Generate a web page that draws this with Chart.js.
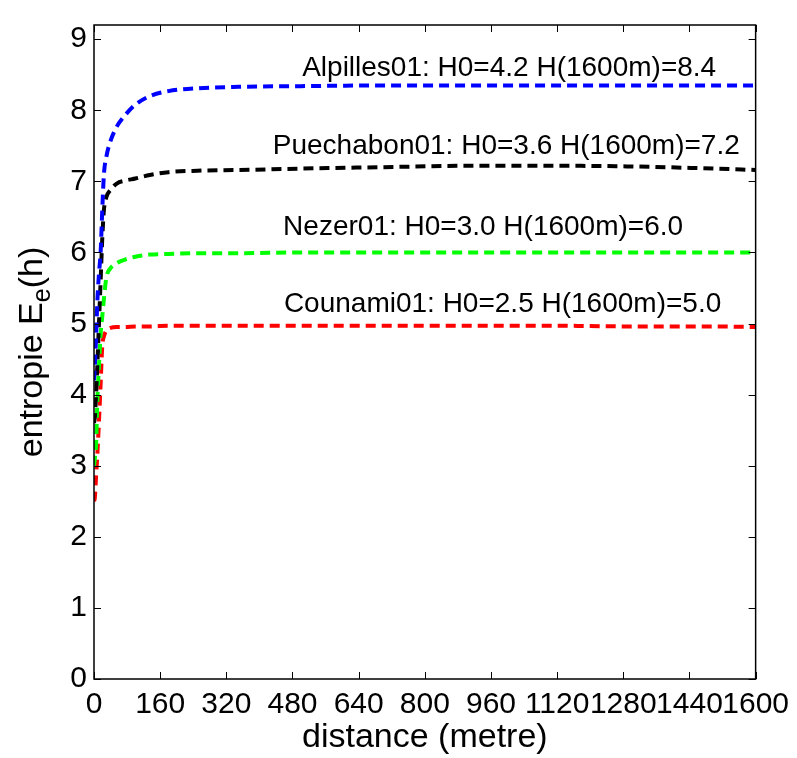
<!DOCTYPE html>
<html>
<head>
<meta charset="utf-8">
<script src="https://cdn.jsdelivr.net/npm/chart.js@4/dist/chart.umd.min.js"></script>
<style>
html, body { margin: 0; padding: 0; background: #fff; }
</style>
</head>
<body>
<canvas id="myChart" width="797" height="758"></canvas>
<script>
//Data
var distance = [0, 2, 5, 8, 12, 16, 20, 24, 30, 40, 55, 75, 100, 135, 180, 250, 350, 500, 700, 900, 1100, 1300, 1500, 1600];
var alpilles = [4.2, 4.4, 4.8, 5.3, 5.7, 6.0, 6.6, 7.1, 7.35, 7.57, 7.77, 7.93, 8.08, 8.2, 8.27, 8.31, 8.33, 8.34, 8.35, 8.35, 8.35, 8.35, 8.35, 8.35];
var puechabon = [3.6, 3.68, 4.0, 4.4, 5.0, 5.6, 6.2, 6.6, 6.78, 6.88, 6.97, 7.01, 7.04, 7.09, 7.13, 7.15, 7.16, 7.18, 7.2, 7.22, 7.22, 7.21, 7.18, 7.16];
var nezer = [3.0, 3.1, 3.3, 3.9, 4.4, 4.85, 5.1, 5.35, 5.65, 5.78, 5.85, 5.9, 5.94, 5.97, 5.98, 5.99, 5.99, 6.0, 6.0, 6.0, 6.0, 6.0, 6.0, 6.0];
var counami = [2.5, 2.55, 2.85, 3.15, 3.62, 4.15, 4.68, 4.82, 4.9, 4.94, 4.95, 4.95, 4.96, 4.96, 4.97, 4.97, 4.97, 4.97, 4.97, 4.97, 4.97, 4.96, 4.96, 4.95];

//Tick labels
var xTicks = [0, 160, 320, 480, 640, 800, 960, 1120, 1280, 1440, 1600];
var yTicks = [0, 1, 2, 3, 4, 5, 6, 7, 8, 9];

//Text labels next to the curves (data coordinates)
var labelText = ['Alpilles01: H0=4.2 H(1600m)=8.4', 'Puechabon01: H0=3.6 H(1600m)=7.2', 'Nezer01: H0=3.0 H(1600m)=6.0', 'Counami01: H0=2.5 H(1600m)=5.0'];
var labelX = [1004, 997, 941, 988];
var labelY = [8.48, 7.39, 6.245, 5.168];

var font = "'Liberation Sans', Arial, Helvetica, sans-serif";

function points(values) {
    return distance.map(function (d, i) { return {x: d, y: values[i]}; });
}
function line(values, color) {
    return {
        data: points(values),
        borderColor: color,
        borderWidth: 4,
        borderDash: [10, 6],
        borderCapStyle: 'butt',
        pointRadius: 0,
        fill: false,
        cubicInterpolationMode: 'monotone'
    };
}

// frame, inward ticks, titles and curve labels
var frame = {
    id: 'frame',
    afterDraw: function (chart) {
        var ctx = chart.ctx;
        var a = chart.chartArea;
        var xs = chart.scales.x, ys = chart.scales.y;
        ctx.save();
        ctx.strokeStyle = '#000';
        ctx.lineWidth = 1.5;
        ctx.strokeRect(a.left, a.top, a.right - a.left, a.bottom - a.top);
        ctx.lineWidth = 1;
        ctx.beginPath();
        xTicks.forEach(function (v) {
            var px = Math.round(xs.getPixelForValue(v)) + 0.5;
            ctx.moveTo(px, a.bottom); ctx.lineTo(px, a.bottom - 7);
            ctx.moveTo(px, a.top); ctx.lineTo(px, a.top + 7);
        });
        yTicks.forEach(function (v) {
            var py = Math.round(ys.getPixelForValue(v)) + 0.5;
            ctx.moveTo(a.left, py); ctx.lineTo(a.left + 7, py);
            ctx.moveTo(a.right, py); ctx.lineTo(a.right - 7, py);
        });
        ctx.stroke();

        ctx.fillStyle = '#000';
        // curve labels
        ctx.font = '28px ' + font;
        ctx.textAlign = 'center';
        ctx.textBaseline = 'alphabetic';
        labelText.forEach(function (t, i) {
            ctx.fillText(t, xs.getPixelForValue(labelX[i]), ys.getPixelForValue(labelY[i]));
        });

        // x title
        ctx.font = '34px ' + font;
        ctx.fillText('distance (metre)', (a.left + a.right) / 2, 747);

        // y title with subscript
        ctx.translate(42, (a.top + a.bottom) / 2);
        ctx.rotate(-Math.PI / 2);
        ctx.textAlign = 'left';
        var big = '34px ' + font, small = '25px ' + font;
        ctx.font = big;
        var w1 = ctx.measureText('entropie E').width;
        var w3 = ctx.measureText('(h)').width;
        ctx.font = small;
        var w2 = ctx.measureText('e').width;
        var x0 = -(w1 + w2 + w3) / 2;
        ctx.font = big;
        ctx.fillText('entropie E', x0, 0);
        ctx.font = small;
        ctx.fillText('e', x0 + w1, 8);
        ctx.font = big;
        ctx.fillText('(h)', x0 + w1 + w2, 0);
        ctx.restore();
    }
};

var ctx = document.getElementById('myChart');
var myChart = new Chart(ctx, {
    type: 'line',
    data: {
        datasets: [
            line(alpilles, '#0000ff'),
            line(puechabon, '#000000'),
            line(nezer, '#00ff00'),
            line(counami, '#ff0000')
        ]
    },
    options: {
        responsive: false,
        animation: false,
        devicePixelRatio: 1,
        layout: { padding: { left: 0, top: 12, right: 40, bottom: 0 } },
        plugins: { legend: { display: false }, tooltip: { enabled: false } },
        scales: {
            x: {
                type: 'linear',
                min: 0,
                max: 1600,
                grid: { display: false, drawTicks: false },
                border: { display: false },
                afterBuildTicks: function (s) { s.ticks = xTicks.map(function (v) { return {value: v}; }); },
                afterFit: function (s) { s.height = 79; },
                ticks: { autoSkip: false, maxRotation: 0, padding: 8, color: '#000', callback: function (v) { return String(v); }, font: { size: 30, family: font } }
            },
            y: {
                min: 0,
                max: 9.2,
                grid: { display: false, drawTicks: false },
                border: { display: false },
                afterBuildTicks: function (s) { s.ticks = yTicks.map(function (v) { return {value: v}; }); },
                afterFit: function (s) { s.width = 94; },
                ticks: { autoSkip: false, padding: 7, color: '#000', callback: function (v) { return String(v); }, font: { size: 30, family: font } }
            }
        }
    },
    plugins: [frame]
});
</script>
</body>
</html>
